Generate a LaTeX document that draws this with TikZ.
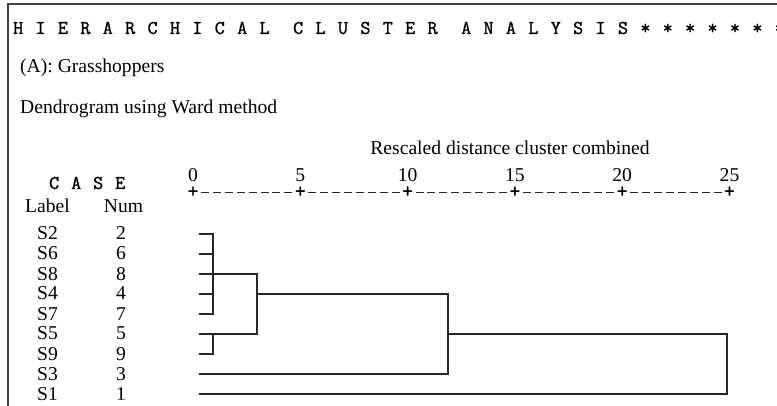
\documentclass[tikz,border=0pt]{standalone}
\usepackage{fontspec}
\setmainfont{Liberation Serif}
\newfontfamily\monob[FakeBold=1.2]{Latin Modern Mono}
\newfontfamily\monof{Latin Modern Mono}
\newcommand\spaceout[2]{\def\spw{#1}\spaceoutx#2\relax}
\def\spaceoutx#1{\ifx#1\relax\else\makebox[\spw]{#1}\expandafter\spaceoutx\fi}
\begin{document}
\begin{tikzpicture}[x=1pt,y=-1pt,
  serif/.style={font=\fontsize{19.6}{21}\selectfont, inner sep=0, anchor=base},
  serifw/.style={serif, anchor=base west},
  mono/.style={font=\monob\fontsize{19.6}{21}\selectfont, inner sep=0, anchor=base west},
  dline/.style={line width=1.05pt, black!85},
  frame/.style={line width=1.4pt, black!75},
  plus/.style={font=\monob\fontsize{21}{21}\selectfont, inner sep=0, anchor=base, text height=6pt, text depth=0pt},
  axdash/.style={line width=0.9pt, black!85}]
\useasboundingbox (0,0) rectangle (777,406);
\draw[frame] (8,412) -- (8,4) -- (782,4);
\node[mono] (title) at (6.8,34) {\spaceout{22.4pt}{HIERARCHICAL}\hspace{11.2pt}\spaceout{22.4pt}{CLUSTER}\hspace{11.2pt}\spaceout{22.4pt}{ANALYSIS*******}};
\node[serifw] (sub) at (20,73) {(A): Grasshoppers};
\node[serifw] (dend) at (20,114) {Dendrogram using Ward method};
\node[serif] (resc) at (510,155) {Rescaled distance cluster combined};
\node[mono] (case) at (43,189) {\spaceout{22pt}{CASE}};
\node[serif] (lab) at (47.5,213) {Label};
\node[serif] (num) at (123.5,213) {Num};
% axis
\foreach \v [count=\k from 0] in {0,5,10,15,20,25} {
  \node[serif] (ax\v) at ({193+107.3*\k},182) {\v};
  \node[plus] (p\v) at ({193+107.3*\k},197.5) {+};
}
\foreach \k in {0,...,4} {
  \foreach \j in {1,...,8} {
    \draw[axdash] ({193+107.3*\k+11.92*\j-4},192.5) -- ++(8,0);
  }
}
% cases
\foreach \l/\n [count=\i from 0] in {S2/2,S6/6,S8/8,S4/4,S7/7,S5/5,S9/9,S3/3,S1/1} {
  \node[serif] (lab\n) at (47.5,{240+20*\i}) {\l};
  \node[serif] (num\n) at (121,{240+20*\i}) {\n};
  \coordinate (leaf\n) at (199,{234+20*\i});
}
\coordinate (v1) at (213,0);
\coordinate (v2) at (257,0);
\coordinate (v3) at (448,0);
\coordinate (v4) at (727,0);
\draw[dline] (leaf2) -- (leaf2 -| v1) -- (leaf7 -| v1) -- (leaf7);
\draw[dline] (leaf6) -- (leaf6 -| v1);
\draw[dline] (leaf4) -- (leaf4 -| v1);
\draw[dline] (leaf9) -- (leaf9 -| v1) -- (leaf5 -| v1);
\draw[dline] (leaf8) -- (leaf8 -| v2) -- (leaf5 -| v2) -- (leaf5);
\draw[dline] (leaf4 -| v2) -- (leaf4 -| v3) -- (leaf3 -| v3) -- (leaf3);
\draw[dline] (leaf5 -| v3) -- (leaf5 -| v4) -- (leaf1 -| v4) -- (leaf1);
\end{tikzpicture}
\end{document}
